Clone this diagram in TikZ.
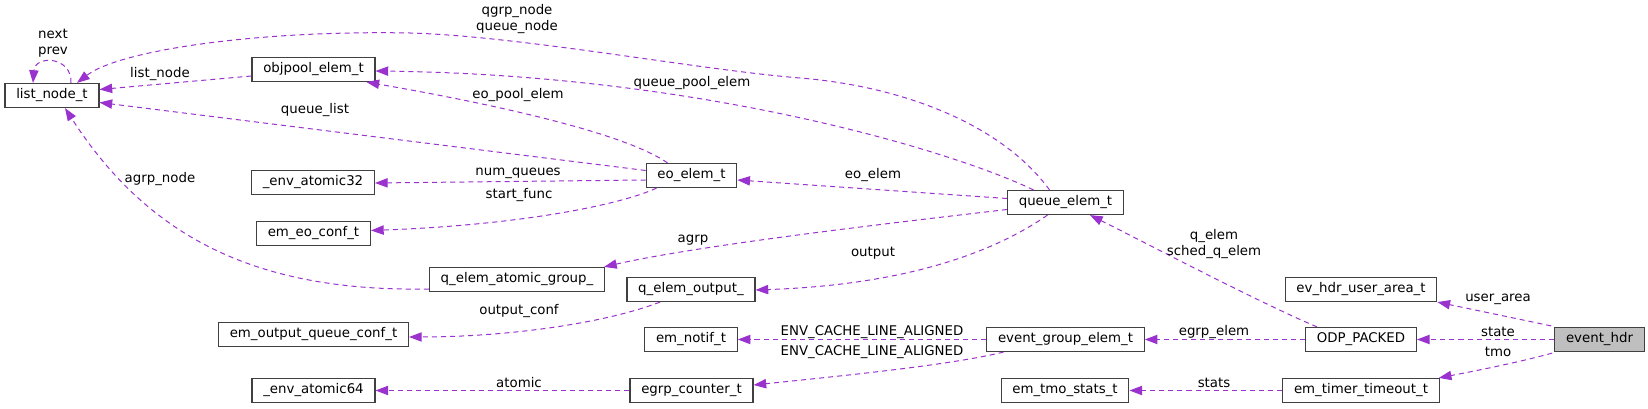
\documentclass[tikz,border=0pt]{standalone}
\usepackage{fontspec}
\setmainfont{DejaVu Sans}
\usepackage{xcolor}
\usepackage{tikz}
\usetikzlibrary{positioning,arrows.meta,calc}
\definecolor{edgep}{HTML}{9A32CD}
\definecolor{boxk}{HTML}{404040}
\definecolor{rootg}{HTML}{BFBFBF}

\begin{document}
\begin{tikzpicture}[x=0.75pt,y=-0.75pt,font=\fontsize{10}{12}\selectfont,
  cls/.style={draw=boxk,line width=0.9pt,fill=white,inner xsep=8.4pt,inner ysep=0pt,minimum height=18pt},
  member/.style={edgep,line width=0.75pt,dash pattern=on 3.8pt off 3pt,-{Triangle[length=9.5pt,width=7pt]}},
  lbl/.style={inner sep=0pt,align=center}]
\useasboundingbox (0,0) rectangle (1648,409);
% class boxes, left column
\node[cls] (listnode) at (52,95.5) {list\_node\_t};
\node[cls] (objpool) at (313.5,69.5) {objpool\_elem\_t};
\node[cls] (atomic32) at (313,182.5) {\_env\_atomic32};
\node[cls] (eoconf) at (313.5,233.5) {em\_eo\_conf\_t};
\node[cls] (outqconf) at (313.5,334.5) {em\_output\_queue\_conf\_t};
\node[cls] (atomic64) at (313.5,390.5) {\_env\_atomic64};
% middle columns
\node[cls] (qatomic) at (517,279.5) {q\_elem\_atomic\_group\_};
\node[cls] (eoelem) at (691.5,175.5) {eo\_elem\_t};
\node[cls] (qoutput) at (691,289.5) {q\_elem\_output\_};
\node[cls] (notif) at (691,339.5) {em\_notif\_t};
\node[cls] (egrpcnt) at (691.5,390.5) {egrp\_counter\_t};
\node[cls] (queueelem) at (1065.5,202.5) {queue\_elem\_t};
\node[cls] (egrpelem) at (1065.5,339.5) {event\_group\_elem\_t};
\node[cls] (tmostats) at (1065,390.5) {em\_tmo\_stats\_t};
% right columns
\node[cls] (userarea) at (1361,289.5) {ev\_hdr\_user\_area\_t};
\node[cls] (odp) at (1361,339.5) {ODP\_PACKED};
\node[cls] (timerto) at (1361,390.5) {em\_timer\_timeout\_t};
\node[cls,fill=rootg] (evhdr) at (1599.5,339.5) {event\_hdr};

% members of list_node_t, objpool_elem_t
\draw[member] ($(listnode.north)+(19,0)$) .. controls +(1,-27) and +(2,-28) .. ($(listnode.north)+(-19,0)$);
\node[lbl] (l-nextprev) at (53,43.5) {next\\prev};
\draw[member] ($(objpool.west)+(0,6.5)$) -- ($(listnode.east)+(0,-6)$);
\node[lbl] (l-listnode) at (160,74) {list\_node};
% members of eo_elem_t
\draw[member] ($(eoelem.north)+(-24,0)$) .. controls (620,130) and (470,100) .. ($(objpool.south)+(53,0)$);
\node[lbl] (l-eopool) at (518,95) {eo\_pool\_elem};
\draw[member] ($(eoelem.west)+(0,-5)$) -- ($(listnode.east)+(0,7)$);
\node[lbl] (l-qlist) at (315,110) {queue\_list};
\draw[member] ($(eoelem.west)+(0,4.5)$) -- ($(atomic32.east)+(0,0.5)$);
\node[lbl] (l-numq) at (518,173) {num\_queues};
\draw[member] ($(eoelem.south)+(-35,0)$) .. controls (620,205) and (520,225) .. ($(eoconf.east)+(0,-3)$);
\node[lbl] (l-start) at (519,195) {start\_func};
% members of queue_elem_t
\draw[member] ($(queueelem.north)+(-16,0)$) .. controls +(-49,-67) and (900,86) .. (800,78)
  .. controls (700,70) and (520,36) .. (410,33) .. controls (260,30) and +(43,-33) .. ($(listnode.north)+(25,0)$);
\node[lbl] (l-qgrp) at (517,19.5) {qgrp\_node\\queue\_node};
\draw[member] ($(queueelem.north)+(-32,0)$) .. controls (950,150) and (700,75) .. ($(objpool.east)+(0,1.5)$);
\node[lbl] (l-qpool) at (692,83) {queue\_pool\_elem};
\draw[member] ($(queueelem.west)+(0,-4)$) -- ($(eoelem.east)+(0,4.5)$);
\node[lbl] (l-eoelem) at (873,175) {eo\_elem};
\draw[member] ($(queueelem.west)+(0,7)$) .. controls (900,222) and (700,245) .. ($(qatomic.north east)+(-1,0)$);
\node[lbl] (l-agrp) at (693,240) {agrp};
\draw[member] ($(queueelem.south)+(-18,0)$) .. controls (990,255) and (900,285) .. ($(qoutput.east)+(0,0.5)$);
\node[lbl] (l-output) at (873,253) {output};
% q_elem_atomic_group_, q_elem_output_
\draw[member] ($(qatomic.west)+(0,9.5)$) .. controls (260,292) and (150,240) .. ($(listnode.south)+(13,0)$);
\node[lbl] (l-agrpnode) at (160,179) {agrp\_node};
\draw[member] ($(qoutput.south)+(-31,0)$) .. controls (600,325) and (500,337) .. ($(outqconf.east)+(0,2.5)$);
\node[lbl] (l-outconf) at (519,311) {output\_conf};
% event_group_elem_t, egrp_counter_t
\draw[member] (egrpelem.west) -- (notif.east);
\node[lbl] (l-env1) at (872,332) {ENV\_CACHE\_LINE\_ALIGNED};
\draw[member] ($(egrpelem.south)+(-62,0)$) .. controls (950,365) and (850,375) .. ($(egrpcnt.east)+(0,-5.5)$);
\node[lbl] (l-env2) at (872,352) {ENV\_CACHE\_LINE\_ALIGNED};
\draw[member] (egrpcnt.west) -- (atomic64.east);
\node[lbl] (l-atomic) at (519,383) {atomic};
% ODP_PACKED, em_timer_timeout_t
\draw[member] ($(odp.north)+(-44,0)$) .. controls (1260,303) and (1140,240) .. ($(queueelem.south)+(24.5,0)$);
\node[lbl] (l-qelem) at (1214,244.5) {q\_elem\\sched\_q\_elem};
\draw[member] (odp.west) -- (egrpelem.east);
\node[lbl] (l-egrp) at (1214,332) {egrp\_elem};
\draw[member] (timerto.west) -- (tmostats.east);
\node[lbl] (l-stats) at (1214,383) {stats};
% event_hdr
\draw[member] ($(evhdr.north west)+(-3,-1)$) -- (userarea.south east);
\node[lbl] (l-user) at (1498,299) {user\_area};
\draw[member] (evhdr.west) -- (odp.east);
\node[lbl] (l-state) at (1498,332) {state};
\draw[member] ($(evhdr.south west)+(-2,1)$) .. controls (1520,362) and (1480,370) .. ($(timerto.north east)+(-1,0)$);
\node[lbl] (l-tmo) at (1498,352) {tmo};
\end{tikzpicture}
\end{document}
